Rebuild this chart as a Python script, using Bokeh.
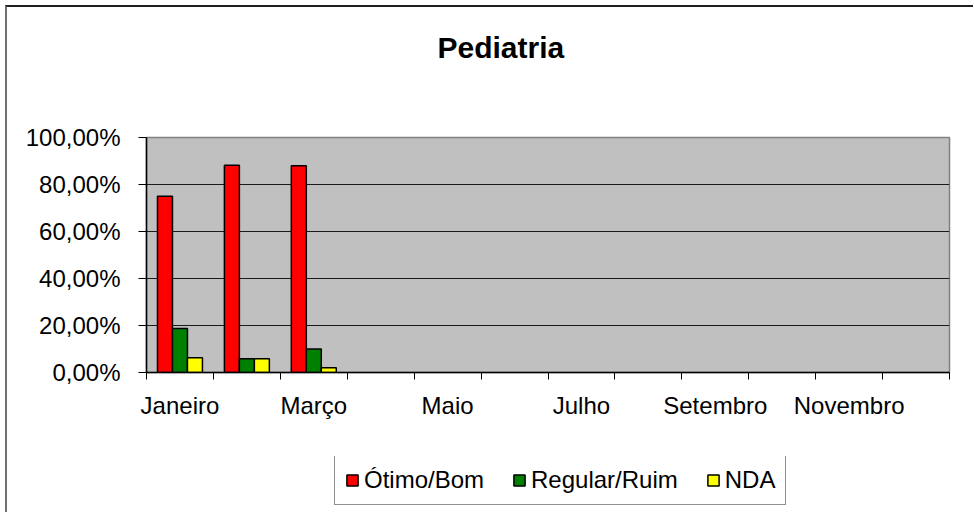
from bokeh.plotting import figure
from bokeh.models import (Range1d, FixedTicker, Legend, LegendItem)
from bokeh.layouts import column
from bokeh.embed import file_html
from bokeh.resources import INLINE

# ---- data ----
months = ["Janeiro", "Fevereiro", "Março", "Abril", "Maio", "Junho",
          "Julho", "Agosto", "Setembro", "Outubro", "Novembro", "Dezembro"]
data_months = ["Janeiro", "Fevereiro", "Março"]
otimo_bom = [75.0, 88.24, 88.0]
regular_ruim = [18.75, 5.88, 10.0]
nda = [6.25, 5.88, 2.0]
y_ticks = [0, 20, 40, 60, 80, 100]
y_labels = ["0,00%", "20,00%", "40,00%", "60,00%", "80,00%", "100,00%"]
series_names = ["Ótimo/Bom", "Regular/Ruim", "NDA"]
series_colors = ["#FF0000", "#008000", "#FFFF00"]

FONT = "Liberation Sans"

p = figure(width=966, height=449, output_backend="svg", toolbar_location=None,
           x_range=Range1d(0, 12), y_range=Range1d(0, 100),
           min_border_left=139, min_border_right=24,
           min_border_top=130, min_border_bottom=84)

p.background_fill_color = "#C0C0C0"
p.border_fill_color = "white"
p.outline_line_color = "#808080"
p.outline_line_width = 1.5

# bars
bar_w = 0.224
offsets = [-bar_w, 0.0, bar_w]
series = [otimo_bom, regular_ruim, nda]
for vals, off, col in zip(series, offsets, series_colors):
    xs = [months.index(m) + 0.5 + off for m in data_months]
    p.vbar(x=xs, top=vals, bottom=0, width=bar_w, fill_color=col,
           line_color="black", line_width=1.5)

# y axis
yax = p.yaxis[0]
yax.ticker = FixedTicker(ticks=y_ticks)
yax.major_label_overrides = {t: l for t, l in zip(y_ticks, y_labels)}
yax.major_label_text_font = FONT
yax.major_label_text_font_size = "24px"
yax.major_label_text_color = "black"
yax.major_tick_out = 8
yax.major_tick_in = 0
yax.major_tick_line_color = "black"
yax.minor_tick_line_color = None
yax.axis_line_color = "black"
yax.axis_line_width = 1.5
yax.major_label_standoff = 18

# x axis: labels at every other category centre, boundary ticks as minor ticks
label_pos = [i + 0.5 for i in range(0, 12, 2)]
xax = p.xaxis[0]
xax.ticker = FixedTicker(ticks=label_pos, minor_ticks=list(range(13)))
xax.major_label_overrides = {i + 0.5: months[i] for i in range(0, 12, 2)}
xax.major_label_text_font = FONT
xax.major_label_text_font_size = "24px"
xax.major_label_text_color = "black"
xax.major_tick_line_color = None
xax.major_tick_out = 0
xax.major_tick_in = 0
xax.minor_tick_out = 7
xax.minor_tick_in = 0
xax.minor_tick_line_color = "black"
xax.axis_line_color = "black"
xax.axis_line_width = 1.5
xax.major_label_standoff = 12

# grid
p.xgrid.grid_line_color = None
p.ygrid.ticker = FixedTicker(ticks=[20, 40, 60, 80])
p.ygrid.grid_line_color = "#1a1a1a"
p.ygrid.grid_line_width = 1.2

# title (second blank line lifts it above the plot area)
p.title.text = "Pediatria\n\u00a0"
p.title.text_font = FONT
p.title.text_font_size = "30px"
p.title.text_font_style = "bold"
p.title.text_color = "black"
p.title.text_line_height = 2.08
p.title.align = "left"
p.title.offset = 291
p.title.vertical_align = "bottom"
p.title.standoff = 10

# legend in its own strip below the chart (frame aligned with the chart's frame)
lf = figure(width=966, height=56, output_backend="svg", toolbar_location=None,
            x_range=Range1d(0, 1), y_range=Range1d(0, 1),
            x_axis_type=None, y_axis_type=None,
            min_border_left=139, min_border_right=24,
            min_border_top=0, min_border_bottom=0)
lf.outline_line_color = None
lf.background_fill_color = "white"
lf.border_fill_color = "white"
lf.xgrid.grid_line_color = None
lf.ygrid.grid_line_color = None
leg_renderers = []
for col in series_colors:
    # tiny proxy bars used only as legend keys; they sit behind the opaque legend box
    r = lf.vbar(x=[0.5], top=[0.55], bottom=[0.45], width=0.005, fill_color=col,
                line_color="black", line_width=1.5)
    leg_renderers.append(r)
items = [LegendItem(label=n, renderers=[r]) for n, r in zip(series_names, leg_renderers)]
legend = Legend(items=items, orientation="horizontal", location=(188, 7),
                label_text_font=FONT, label_text_font_size="24px",
                label_text_color="black",
                glyph_width=14, glyph_height=14, label_standoff=5,
                spacing=28, padding=10, margin=0,
                border_line_color="#222222", border_line_width=1.5,
                background_fill_color="white", background_fill_alpha=1.0)
lf.add_layout(legend, "center")

lay = column(p, lf, spacing=0)
lay.styles = {"margin-left": "5px", "margin-top": "5px",
              "border-left": "2px solid #707070", "border-top": "2px solid #202020"}

open("out.html", "w").write(file_html(lay, INLINE))
